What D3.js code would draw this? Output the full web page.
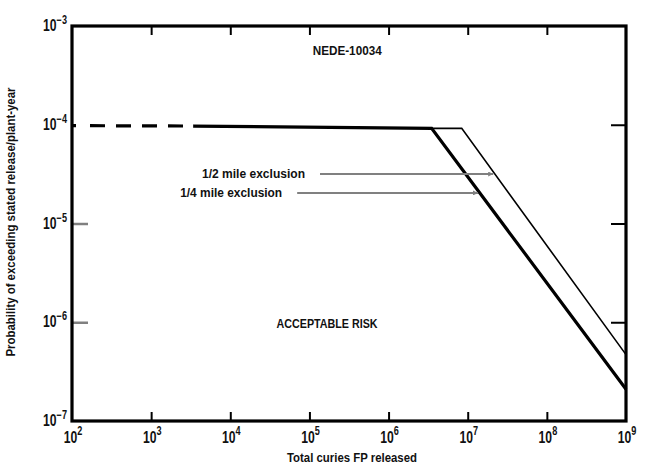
<!DOCTYPE html>
<html lang="en">
<head>
<meta charset="UTF-8">
<title>Acceptable risk curve</title>
<style>
    html, body { margin: 0; padding: 0; background: #fff; overflow: hidden; }
    svg { display: block; }
    svg text {
        font-family: "Liberation Sans", Arial, Helvetica, sans-serif;
        font-weight: bold;
        fill: #111;
    }
</style>
</head>
<body>
<div id="chart"></div>
<script src="https://d3js.org/d3.v7.min.js"></script>
<script>
    // decades on the axes
    const xDecades = [2, 3, 4, 5, 6, 7, 8, 9];
    const yDecades = [-3, -4, -5, -6, -7];

    // 1/4 mile exclusion curve (thick), dashed part first
    const quarterDashed = [[1e2, 9.8e-5], [3.4e3, 9.7e-5]];
    const quarterSolid = [[3.4e3, 9.7e-5], [3.5e6, 9.2e-5], [1e9, 2.1e-7]];
    // 1/2 mile exclusion curve (thin)
    const halfSolid = [[3.5e6, 9.2e-5], [8.4e6, 9.2e-5], [1e9, 4.7e-7]];

    // arrows: label, start x, end x, y
    const arrows = [
        { label: "1/2 mile exclusion", x0: 1.36e5, x1: 2.1e7, y: 3.17e-5, w: 103 },
        { label: "1/4 mile exclusion", x0: 7.0e4, x1: 1.35e7, y: 2.04e-5, w: 102 }
    ];

    const notes = [
        { text: "NEDE-10034", x: 3.0e5, y: 5.1e-4, w: 69 },
        { text: "ACCEPTABLE RISK", x: 1.67e5, y: 8.75e-7, w: 101 }
    ];

    const width = 651, height = 470;
    const margin = { top: 26, right: 25, bottom: 49, left: 72 };
    const innerWidth = width - margin.left - margin.right;
    const innerHeight = height - margin.top - margin.bottom;

    const svg = d3.select("#chart").append("svg")
        .attr("width", width)
        .attr("height", height);

    const g = svg.append("g")
        .attr("transform", `translate(${margin.left}, ${margin.top})`);

    const xScale = d3.scaleLog().domain([1e2, 1e9]).range([0, innerWidth]);
    const yScale = d3.scaleLog().domain([1e-7, 1e-3]).range([innerHeight, 0]);

    const inner = v => v.slice(1, -1).map(d => Math.pow(10, d));

    // tick marks
    const tickStyle = sel => {
        sel.select(".domain").remove();
        sel.selectAll(".tick line").attr("stroke", "#000").attr("stroke-width", 2);
    };
    g.append("g").attr("transform", `translate(0, ${innerHeight})`)
        .call(d3.axisBottom(xScale).tickValues(inner(xDecades)).tickSize(-9).tickFormat(""))
        .call(tickStyle);
    g.append("g")
        .call(d3.axisTop(xScale).tickValues(inner(xDecades)).tickSize(-9).tickFormat(""))
        .call(tickStyle);
    g.append("g").attr("transform", `translate(${innerWidth}, 0)`)
        .call(d3.axisRight(yScale).tickValues(inner(yDecades)).tickSize(-15).tickFormat(""))
        .call(tickStyle);
    g.append("g")
        .call(d3.axisLeft(yScale).tickValues([1e-5, 1e-6]).tickSize(-16).tickFormat(""))
        .call(sel => {
            sel.select(".domain").remove();
            sel.selectAll(".tick line").attr("stroke", "#808080").attr("stroke-width", 2.5);
        });

    // curves
    const line = d3.line().x(d => xScale(d[0])).y(d => yScale(d[1]));
    g.append("path").datum(quarterDashed).attr("d", line)
        .attr("fill", "none").attr("stroke", "#000").attr("stroke-width", 3.2)
        .attr("stroke-dasharray", "4 14 15 11 15 11 15 11 15 10");
    g.append("path").datum(quarterSolid).attr("d", line)
        .attr("fill", "none").attr("stroke", "#000").attr("stroke-width", 3.2)
        .attr("stroke-linejoin", "miter");
    g.append("path").datum(halfSolid).attr("d", line)
        .attr("fill", "none").attr("stroke", "#000").attr("stroke-width", 1.6);

    // frame
    g.append("rect")
        .attr("width", innerWidth).attr("height", innerHeight)
        .attr("fill", "none").attr("stroke", "#000").attr("stroke-width", 3.2);

    // arrows
    svg.append("defs").append("marker")
        .attr("id", "head").attr("viewBox", "0 0 10 10")
        .attr("refX", 10).attr("refY", 5)
        .attr("markerWidth", 9).attr("markerHeight", 5)
        .attr("markerUnits", "userSpaceOnUse")
        .attr("orient", "auto")
        .append("path").attr("d", "M0,0L10,5L0,10Z").attr("fill", "#808080");

    const arrowG = g.selectAll(".arrow").data(arrows).join("g").attr("class", "arrow");
    arrowG.append("line")
        .attr("x1", d => xScale(d.x0)).attr("x2", d => xScale(d.x1))
        .attr("y1", d => yScale(d.y)).attr("y2", d => yScale(d.y))
        .attr("stroke", "#808080").attr("stroke-width", 2)
        .attr("marker-end", "url(#head)");
    arrowG.append("text")
        .attr("x", d => xScale(d.x0) - 15)
        .attr("y", d => yScale(d.y) + 4)
        .attr("text-anchor", "end")
        .attr("font-size", 12.5)
        .attr("textLength", d => d.w)
        .attr("lengthAdjust", "spacingAndGlyphs")
        .text(d => d.label);

    g.selectAll(".note").data(notes).join("text")
        .attr("class", "note")
        .attr("x", d => xScale(d.x)).attr("y", d => yScale(d.y))
        .attr("text-anchor", "middle")
        .attr("font-size", 12.5)
        .attr("textLength", d => d.w)
        .attr("lengthAdjust", "spacingAndGlyphs")
        .text(d => d.text);

    // tick labels "10" with a superscript exponent, squeezed to look condensed
    const xLab = g.selectAll(".xlab").data(xDecades).join("g")
        .attr("class", "xlab")
        .attr("transform", d => `translate(${xScale(Math.pow(10, d)) + 3}, ${innerHeight + 22}) scale(0.76, 1)`);
    xLab.append("text").attr("x", 3).attr("text-anchor", "end")
        .attr("font-size", 16).text("10");
    xLab.append("text").attr("x", 3).attr("y", -8).attr("text-anchor", "start")
        .attr("font-size", 12).text(d => d);

    const yLab = g.selectAll(".ylab").data(yDecades).join("g")
        .attr("class", "ylab")
        .attr("transform", d => `translate(-5, ${yScale(Math.pow(10, d)) + 5}) scale(0.76, 1)`);
    const yExp = yLab.append("text").attr("x", 0).attr("y", -7).attr("text-anchor", "end")
        .attr("font-size", 12).text(d => "\u2212" + Math.abs(d));
    yLab.append("text").attr("text-anchor", "end")
        .attr("font-size", 16).text("10")
        .attr("x", (d, i) => -yExp.nodes()[i].getComputedTextLength());

    // axis titles
    svg.append("text")
        .attr("x", margin.left + 280).attr("y", 462)
        .attr("text-anchor", "middle")
        .attr("font-size", 12.5)
        .attr("textLength", 130)
        .attr("lengthAdjust", "spacingAndGlyphs")
        .text("Total curies FP released");
    svg.append("text")
        .attr("transform", "translate(15, 222) rotate(-90)")
        .attr("text-anchor", "middle")
        .attr("font-size", 12.5)
        .attr("textLength", 269)
        .attr("lengthAdjust", "spacingAndGlyphs")
        .text("Probability of exceeding stated release/plant-year");
</script>
</body>
</html>
